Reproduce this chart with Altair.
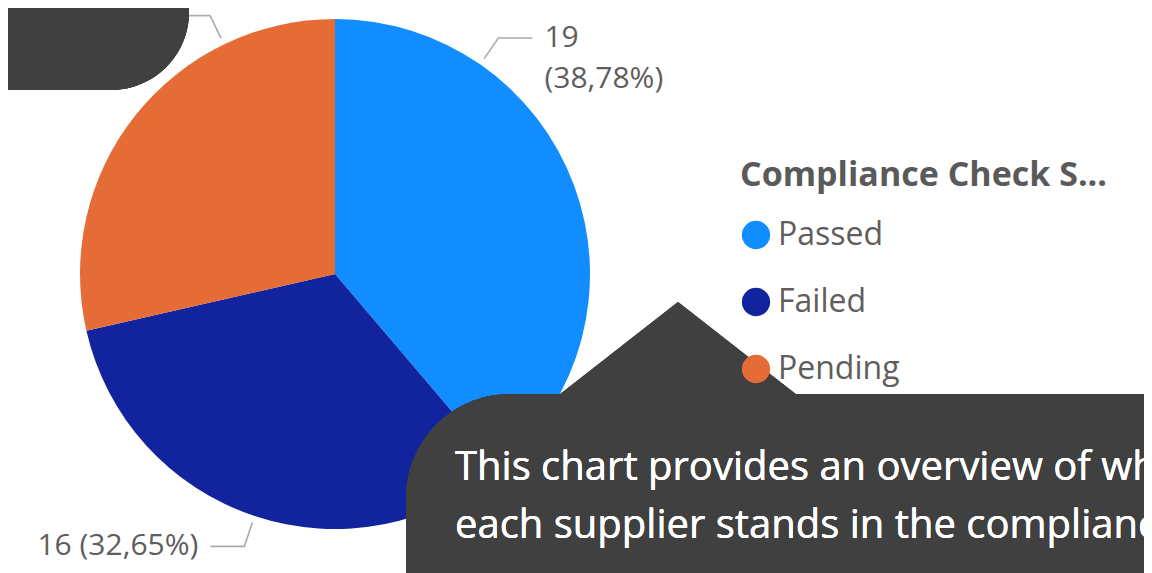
import math
import altair as alt
import pandas as pd

# ---- data ----
statuses = ["Passed", "Failed", "Pending"]
counts = [19, 16, 14]
colors = ["#118DFF", "#12239E", "#E66C37"]
# angle (deg, clockwise from 12 o'clock) where each label's leader line leaves the pie
label_angles = [34.7, 198.4, 334.2]
# whether Power BI wrapped the label onto two lines
label_wrapped = [True, False, False]

callout_lines = [
    "This chart provides an overview of where",
    "each supplier stands in the compliance",
    "process.",
]

# ---- layout constants ----
W, H = 1136, 565
CX, CY, R = 327, 266, 255
FONT = "Open Sans"
LABEL_COLOR = "#605E5C"

total = sum(counts)
pie = pd.DataFrame({"status": statuses, "count": counts, "idx": range(len(statuses))})

# leader lines + labels
rows, labels = [], []
for s, c, a, wrap in zip(statuses, counts, label_angles, label_wrapped):
    rad = math.radians(a)
    side = 1 if a < 180 else -1
    p1 = (CX + 262 * math.sin(rad), CY - 262 * math.cos(rad))
    p2 = (CX + 287 * math.sin(rad), CY - 287 * math.cos(rad))
    p3 = (p2[0] + side * 34, p2[1])
    for k, (px, py) in enumerate([p1, p2, p3]):
        rows.append({"status": s, "pt": k, "x": px, "y": py})
    pct = f"({c / total * 100:.2f}%)".replace(".", ",")
    txt = f"{c}\n{pct}" if wrap else f"{c} {pct}"
    labels.append({"status": s, "x": p3[0] + side * 12, "y": p3[1], "text": txt,
                   "side": "right" if side > 0 else "left"})
leaders = pd.DataFrame(rows)
lab = pd.DataFrame(labels)

arc = alt.Chart(pie).mark_arc(outerRadius=R, strokeWidth=0).encode(
    theta=alt.Theta("count:Q", stack=True),
    order=alt.Order("idx:Q"),
    color=alt.Color(
        "status:N",
        scale=alt.Scale(domain=statuses, range=colors),
        sort=statuses,
        legend=alt.Legend(
            orient="none", legendX=732, legendY=151,
            title="Compliance Check S...",
            titleFont=FONT, titleFontSize=34, titleFontWeight="bold", titleColor="#5A5A5A",
            titlePadding=26,
            labelFont=FONT, labelFontSize=32, labelColor=LABEL_COLOR,
            symbolType="circle", symbolSize=800, symbolStrokeWidth=0,
            labelOffset=6, rowPadding=35, labelLimit=400, titleLimit=600,
        ),
    ),
    x=alt.value(CX),
    y=alt.value(CY),
)

lines = alt.Chart(leaders).mark_line(color="#ABABAB", strokeWidth=1.6).encode(
    x=alt.X("x:Q", scale=None),
    y=alt.Y("y:Q", scale=None),
    detail="status:N",
    order="pt:Q",
)

text_right = alt.Chart(lab).transform_filter("datum.side == 'right'").mark_text(
    align="left", baseline="middle", font=FONT, fontSize=30, color=LABEL_COLOR,
    lineBreak="\n", lineHeight=41,
).encode(x=alt.X("x:Q", scale=None), y=alt.Y("y:Q", scale=None), text="text:N")

text_left = alt.Chart(lab).transform_filter("datum.side == 'left'").mark_text(
    align="right", baseline="middle", font=FONT, fontSize=30, color=LABEL_COLOR,
    lineBreak="\n", lineHeight=41,
).encode(x=alt.X("x:Q", scale=None), y=alt.Y("y:Q", scale=None), text="text:N")

DARK = "#404040"
box_tl = alt.Chart(pie).mark_rect(color=DARK, cornerRadiusBottomRight=78).encode(
    x=alt.value(-120), x2=alt.value(181), y=alt.value(-120), y2=alt.value(82)
)
box_br = alt.Chart(pie).mark_rect(color=DARK, cornerRadiusTopLeft=104).encode(
    x=alt.value(398), x2=alt.value(1400), y=alt.value(386), y2=alt.value(900)
)
pointer = alt.Chart(pie).mark_point(
    shape="M 0 0 L 1.28 1 L -1.28 1 Z", size=57600, filled=True, opacity=1,
    color=DARK, strokeWidth=0,
).encode(x=alt.value(670), y=alt.value(294))

callout_text = alt.Chart(pie).mark_text(
    align="left", baseline="alphabetic", font=FONT, fontSize=40, color="white",
    lineHeight=58,
).encode(x=alt.value(447), y=alt.value(472), text=alt.value(callout_lines))

chart = alt.layer(
    arc, lines, text_right, text_left, box_tl, pointer, box_br, callout_text
).properties(
    width=W, height=H, autosize=alt.AutoSizeParams(type="none"), padding=0
).configure_view(stroke=None)

chart.save("out.html", embed_options={"renderer": "svg", "actions": False})
